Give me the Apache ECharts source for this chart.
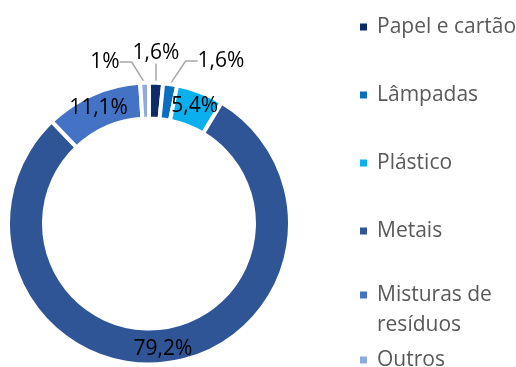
<!DOCTYPE html>
<html>
<head>
<meta charset="utf-8">
<script src="https://cdn.jsdelivr.net/npm/echarts@6/dist/echarts.min.js"></script>
<style>
  html, body { margin: 0; padding: 0; background: #ffffff; }
  #chart { width: 516px; height: 367px; }
</style>
</head>
<body>
<div id="chart"></div>
<script>
// Waste categories and their share (%)
const categories = ['Papel e cartão', 'Lâmpadas', 'Plástico', 'Metais', 'Misturas de resíduos', 'Outros'];
const shares = [1.6, 1.6, 5.4, 79.2, 11.1, 1];
const labelTexts = ['1,6%', '1,6%', '5,4%', '79,2%', '11,1%', '1%'];

const colors = ['#0B2B6A', '#0A6FBE', '#0AB0EE', '#2F5597', '#4472C4', '#8FAADC'];
const FONT = 'Open Sans';

// Small slices get an outside label with a leader line; label centres in px
const outsideLabelAt = {
  0: [156, 53],
  1: [221, 61],
  5: [105, 62]
};

const data = categories.map(function (name, i) {
  const outside = outsideLabelAt[i] !== undefined;
  return {
    name: name,
    value: shares[i],
    label: { position: outside ? 'outside' : 'inside' },
    labelLine: { show: outside }
  };
});

const chart = echarts.init(document.getElementById('chart'), null, { renderer: 'canvas' });

const legendText = {
  fontFamily: FONT,
  fontSize: 21,
  color: '#595959',
  lineHeight: 30,
  padding: [0, 0, 0, 5]
};

const legendBase = {
  orient: 'vertical',
  left: 360,
  padding: 0,
  itemWidth: 7,
  itemHeight: 7,
  icon: 'rect',
  itemStyle: { borderWidth: 0 },
  textStyle: legendText
};

chart.setOption({
  animation: false,
  color: colors,
  legend: [
    Object.assign({}, legendBase, {
      top: 12,
      itemGap: 38,
      data: categories.slice(0, 4)
    }),
    Object.assign({}, legendBase, {
      top: 250,
      itemGap: 5,
      // the wrapped entry keeps its marker beside the first line:
      // an empty leading line centres "Misturas de" on the marker
      formatter: function (name) {
        return name === 'Misturas de resíduos' ? '\u00a0\nMisturas de\nresíduos' : name;
      },
      data: categories.slice(4)
    })
  ],
  series: [
    {
      type: 'pie',
      center: [149, 223.5],
      radius: [105, 141],
      startAngle: 90,
      clockwise: true,
      avoidLabelOverlap: false,
      silent: true,
      itemStyle: { borderColor: '#ffffff', borderWidth: 4 },
      label: {
        show: true,
        fontFamily: FONT,
        fontSize: 21,
        color: '#000000',
        formatter: function (p) { return labelTexts[p.dataIndex]; }
      },
      labelLine: {
        length: 10,
        length2: 12,
        lineStyle: { color: '#A6A6A6', width: 1.5 }
      },
      labelLayout: function (p) {
        const pos = outsideLabelAt[p.dataIndex];
        if (!pos) return {};
        return { x: pos[0], y: pos[1], align: 'center', verticalAlign: 'middle' };
      },
      data: data
    }
  ]
});
</script>
</body>
</html>
